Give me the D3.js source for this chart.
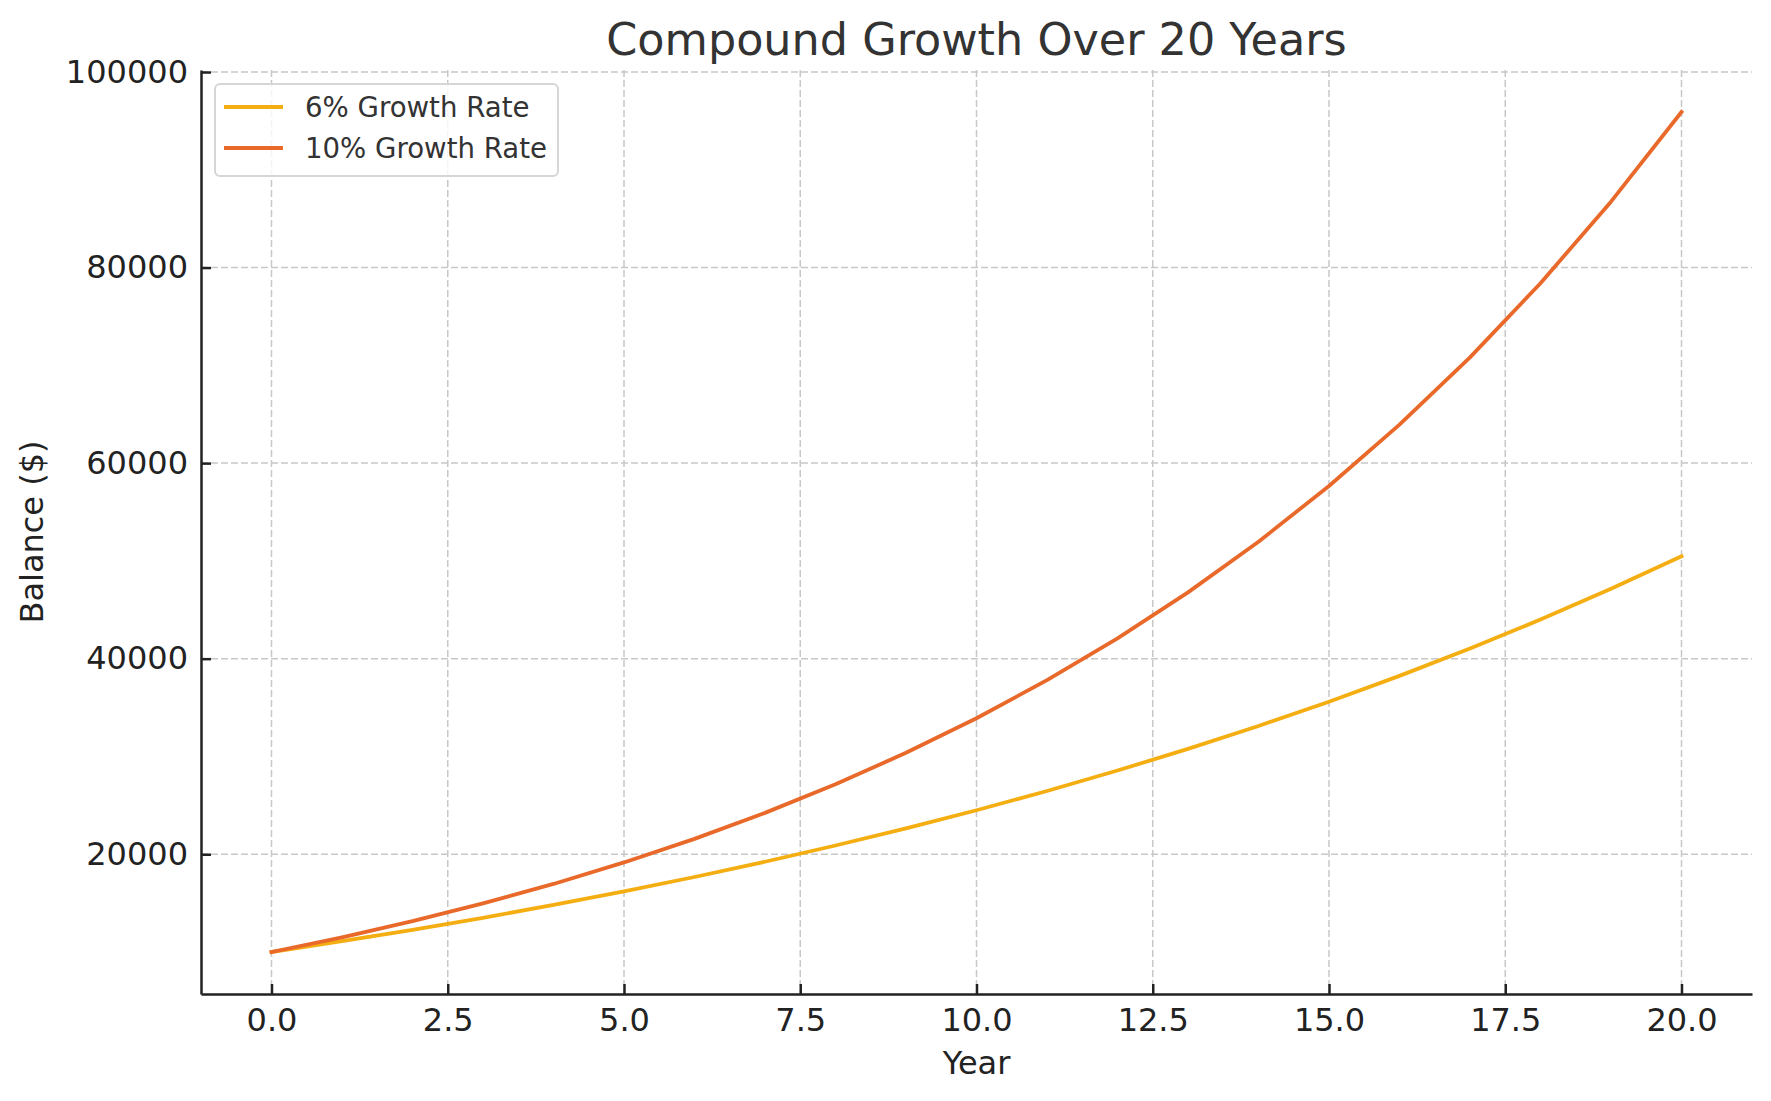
<!DOCTYPE html>
<html lang="en">
<head>
    <meta charset="UTF-8">
    <title>Compound Growth Over 20 Years</title>
    <script src="https://d3js.org/d3.v7.min.js"></script>
    <style>
        body { margin: 0; background: #fff; }
        svg { font-family: "DejaVu Sans", sans-serif; }
    </style>
</head>
<body>
    <svg width="1771" height="1101"></svg>
    <script>
        // values (balance at end of each year)
        var years = [0, 1, 2, 3, 4, 5, 6, 7, 8, 9, 10, 11, 12, 13, 14, 15, 16, 17, 18, 19, 20];
        var rate6 = [10000, 11100, 12270, 13500, 14810, 16200, 17670, 19230, 20890, 22640,
                     24500, 26470, 28560, 30770, 33120, 35600, 38240, 41040, 44000, 47140, 50460];
        var rate10 = [10000, 11500, 13150, 14970, 16960, 19160, 21570, 24230, 27150, 30370,
                      33910, 37800, 42080, 46780, 51960, 57660, 63930, 70820, 78400, 86740, 95910];
        var seriesNames = ["6% Growth Rate", "10% Growth Rate"];
        var seriesColors = ["#f5ae12", "#e9692a"];
        var xTicks = [0, 2.5, 5, 7.5, 10, 12.5, 15, 17.5, 20];
        var yTicks = [20000, 40000, 60000, 80000, 100000];

        var svg = d3.select("svg");
        var m = { left: 201, right: 1752, top: 70, bottom: 994 };

        // matplotlib-style 5% margins
        var allY = rate6.concat(rate10);
        var yMin = d3.min(allY), yMax = d3.max(allY), yPad = (yMax - yMin) * 0.05;
        var x = d3.scaleLinear().domain([-1, 21]).range([m.left, m.right]);
        var y = d3.scaleLinear().domain([yMin - yPad, yMax + yPad]).range([m.bottom, m.top]);

        // grid
        var grid = svg.append("g")
            .attr("stroke", "#c8c8c8")
            .attr("stroke-width", 1.5)
            .attr("stroke-dasharray", "7,3");
        grid.selectAll(".gx").data(xTicks).enter().append("line")
            .attr("x1", d => x(d)).attr("x2", d => x(d))
            .attr("y1", m.top).attr("y2", m.bottom);
        grid.selectAll(".gy").data(yTicks).enter().append("line")
            .attr("x1", m.left).attr("x2", m.right)
            .attr("y1", d => y(d)).attr("y2", d => y(d));

        // lines
        var line = d3.line().x((d, i) => x(years[i])).y(d => y(d));
        [rate6, rate10].forEach(function(s, i) {
            svg.append("path")
                .datum(s)
                .attr("d", line)
                .attr("fill", "none")
                .attr("stroke", seriesColors[i])
                .attr("stroke-width", 3.8)
                .attr("stroke-linejoin", "round")
                .attr("stroke-linecap", "square");
        });

        // axes
        var xAxis = d3.axisBottom(x).tickValues(xTicks).tickFormat(d3.format(".1f"))
            .tickSizeInner(-10).tickSizeOuter(0).tickPadding(14);
        var yAxis = d3.axisLeft(y).tickValues(yTicks).tickFormat(d3.format("d"))
            .tickSizeInner(-10).tickSizeOuter(0).tickPadding(13);

        var gx = svg.append("g").attr("transform", "translate(0," + m.bottom + ")").call(xAxis);
        var gy = svg.append("g").attr("transform", "translate(" + m.left + ",0)").call(yAxis);
        [gx, gy].forEach(function(g) {
            g.select(".domain").attr("stroke", "#222").attr("stroke-width", 2.5);
            g.selectAll(".tick line").attr("stroke", "#222").attr("stroke-width", 2.5);
            g.selectAll(".tick text").attr("fill", "#222")
                .style("font-family", "DejaVu Sans").style("font-size", "32px");
        });
        gx.selectAll(".tick text").attr("dy", "0.71em");

        // labels
        svg.append("text")
            .attr("x", (m.left + m.right) / 2).attr("y", 55)
            .attr("text-anchor", "middle")
            .attr("fill", "#333")
            .style("font-size", "44.5px")
            .text("Compound Growth Over 20 Years");
        svg.append("text")
            .attr("x", (m.left + m.right) / 2).attr("y", 1074)
            .attr("text-anchor", "middle")
            .attr("fill", "#222")
            .style("font-size", "32px")
            .text("Year");
        svg.append("text")
            .attr("transform", "translate(43," + ((m.top + m.bottom) / 2) + ") rotate(-90)")
            .attr("text-anchor", "middle")
            .attr("fill", "#222")
            .style("font-size", "32px")
            .text("Balance ($)");

        // legend
        var legend = svg.append("g");
        legend.append("rect")
            .attr("x", 215).attr("y", 84)
            .attr("width", 343).attr("height", 92)
            .attr("rx", 5)
            .attr("fill", "#fff").attr("fill-opacity", 0.8)
            .attr("stroke", "#d6d6d6").attr("stroke-width", 2);
        var items = legend.selectAll(".item").data(seriesNames).enter().append("g")
            .attr("transform", (d, i) => "translate(0," + (107 + i * 41) + ")");
        items.append("line")
            .attr("x1", 224).attr("x2", 283)
            .attr("stroke", (d, i) => seriesColors[i])
            .attr("stroke-width", 3.8);
        items.append("text")
            .attr("x", 305).attr("dy", "0.36em")
            .attr("fill", "#333")
            .style("font-size", "27.6px")
            .text(d => d);
    </script>
</body>
</html>
